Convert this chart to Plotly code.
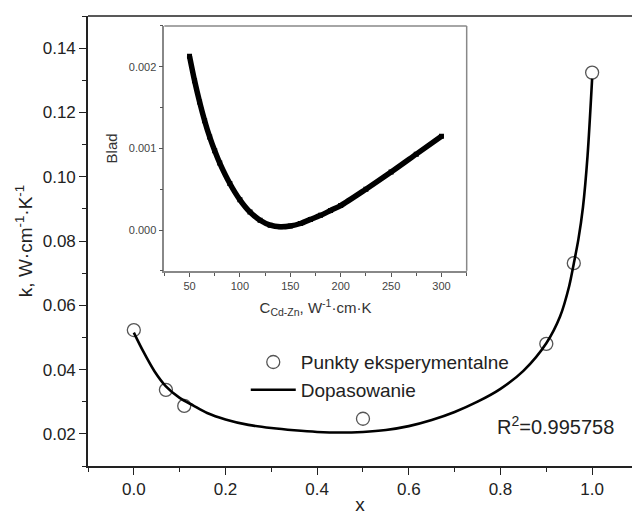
import plotly.graph_objects as go

# Main chart: experimental points
x_exp = [0.0, 0.07, 0.11, 0.5, 0.9, 0.96, 1.0]
k_exp = [0.0523, 0.0337, 0.0287, 0.0247, 0.0480, 0.0731, 0.1324]

# Main chart: fitted curve
x_fit = [0.0, 0.02, 0.045, 0.07, 0.1, 0.13, 0.16, 0.2, 0.25, 0.3, 0.35, 0.4, 0.45,
         0.5, 0.55, 0.6, 0.65, 0.7, 0.75, 0.8, 0.85, 0.9, 0.93, 0.95, 0.96, 0.97,
         0.98, 0.99, 1.0]
k_fit = [0.0515, 0.0458, 0.0395, 0.0348, 0.0312, 0.0288, 0.0265, 0.0245, 0.0228,
         0.0218, 0.0211, 0.0206, 0.0204, 0.0206, 0.0212, 0.0224, 0.0243, 0.0268,
         0.0300, 0.0340, 0.0396, 0.0482, 0.0565, 0.0660, 0.0730, 0.0805, 0.0905,
         0.1065, 0.1305]

# Inset: error vs C
c_ins = [50, 55, 60, 65, 70, 75, 80, 90, 100, 110, 120, 130, 140, 150, 160, 170,
         180, 190, 200, 225, 250, 275, 300]
err_ins = [0.00213, 0.00183, 0.00157, 0.00134, 0.00114, 0.00097, 0.00082, 0.00057,
           0.00037, 0.00022, 0.00012, 0.00006, 0.00004, 0.00005, 0.00008, 0.00013,
           0.00018, 0.00024, 0.00030, 0.00050, 0.00071, 0.00093, 0.00115]

# Tick labels
x_ticks = [0.0, 0.2, 0.4, 0.6, 0.8, 1.0]
x_minor = [-0.1, 0.1, 0.3, 0.5, 0.7, 0.9]
y_ticks = [0.02, 0.04, 0.06, 0.08, 0.10, 0.12, 0.14]
c_ticks = [50, 100, 150, 200, 250, 300]
e_ticks = [0.000, 0.001, 0.002]

FONT = "Liberation Sans, Arial, sans-serif"

fig = go.Figure()

fig.add_trace(go.Scatter(
    x=x_exp, y=k_exp, mode="markers", name="Punkty eksperymentalne",
    marker=dict(symbol="circle-open", size=13, color="#555555", line=dict(width=1.3)),
    legendgroup="a", xaxis="x", yaxis="y"))

fig.add_trace(go.Scatter(
    x=x_fit, y=k_fit, mode="lines", name="Dopasowanie", line_shape="spline",
    line=dict(color="#000000", width=2.6, smoothing=0.8),
    legendgroup="b", xaxis="x", yaxis="y"))

fig.add_trace(go.Scatter(
    x=c_ins, y=err_ins, mode="lines+markers", line_shape="spline", showlegend=False,
    line=dict(color="#000000", width=5.5, smoothing=0.8),
    marker=dict(symbol="square", size=5, color="#000000"),
    xaxis="x2", yaxis="y2"))

axis_common = dict(showgrid=False, zeroline=False, ticks="outside",
                   showline=True)

fig.update_layout(
    width=632, height=515,
    margin=dict(l=88, r=0, t=16, b=49, autoexpand=False),
    paper_bgcolor="white", plot_bgcolor="white",
    font=dict(family=FONT, color="#222222"),
    xaxis=dict(**axis_common, range=[-0.1, 1.087], tickvals=x_ticks, tickformat=".1f",
               linecolor="#222222", linewidth=1.6, mirror=False, ticklen=7, tickwidth=1.4,
               tickcolor="#222222", tickfont=dict(size=17),
               minor=dict(tickvals=x_minor, ticks="outside",
                          ticklen=4, tickcolor="#222222", showgrid=False),
               title=dict(text="x", font=dict(size=19), standoff=2)),
    yaxis=dict(**axis_common, range=[0.01, 0.15], tickvals=y_ticks, tickformat=".2f",
               linecolor="#222222", linewidth=1.6, ticklen=7, tickwidth=1.4, mirror=False,
               tickcolor="#222222", tickfont=dict(size=17),
               minor=dict(dtick=0.01, tick0=0, ticks="outside", ticklen=4, tickcolor="#222222",
                          showgrid=False),
               title=dict(text="k, W·cm<sup>-1</sup>·K<sup>-1</sup>", font=dict(size=19),
                          standoff=5)),
    xaxis2=dict(**axis_common, domain=[0.1403, 0.6961], anchor="y2", range=[25, 325],
                tickvals=c_ticks, linecolor="#888888", linewidth=1.5, mirror=False,
                ticklen=4, tickcolor="#555555", tickfont=dict(size=11, color="#444444"),
                minor=dict(dtick=25, tick0=0, ticks="outside", ticklen=3, tickcolor="#555555",
                           showgrid=False),
                title=dict(text="C<sub>Cd-Zn</sub>, W<sup>-1</sup>·cm·K",
                           font=dict(size=15, color="#333333"), standoff=12)),
    yaxis2=dict(**axis_common, domain=[0.4337, 0.9778], anchor="x2",
                range=[-0.0005, 0.0025], tickvals=e_ticks, tickformat=".3f",
                linecolor="#888888", linewidth=1.5, mirror=False,
                ticklen=4, tickcolor="#555555", tickfont=dict(size=11, color="#444444"),
                minor=dict(dtick=0.0005, tick0=0, ticks="outside", ticklen=3, tickcolor="#555555",
                           showgrid=False),
                title=dict(text="Blad", font=dict(size=15, color="#333333"), standoff=8)),
    legend=dict(x=0.29, y=0.273, xanchor="left", yanchor="top", bgcolor="rgba(0,0,0,0)",
                font=dict(size=19, color="#222222"), traceorder="grouped",
                tracegroupgap=0, itemwidth=45),
    shapes=[
        dict(type="line", xref="paper", yref="paper", x0=0, x1=1, y0=1, y1=1,
             line=dict(color="#222222", width=1.6)),
        dict(type="line", xref="x2 domain", yref="y2 domain", x0=0, x1=1, y0=1, y1=1,
             line=dict(color="#888888", width=1.5)),
        dict(type="line", xref="x2 domain", yref="y2 domain", x0=1, x1=1, y0=0, y1=1,
             line=dict(color="#888888", width=1.5)),
    ],
    annotations=[dict(text="R<sup>2</sup>=0.995758", xref="paper", yref="paper",
                      x=0.748, y=0.091, xanchor="left", yanchor="middle",
                      showarrow=False, font=dict(size=20, color="#222222"))],
)

fig.write_html("out.html")
